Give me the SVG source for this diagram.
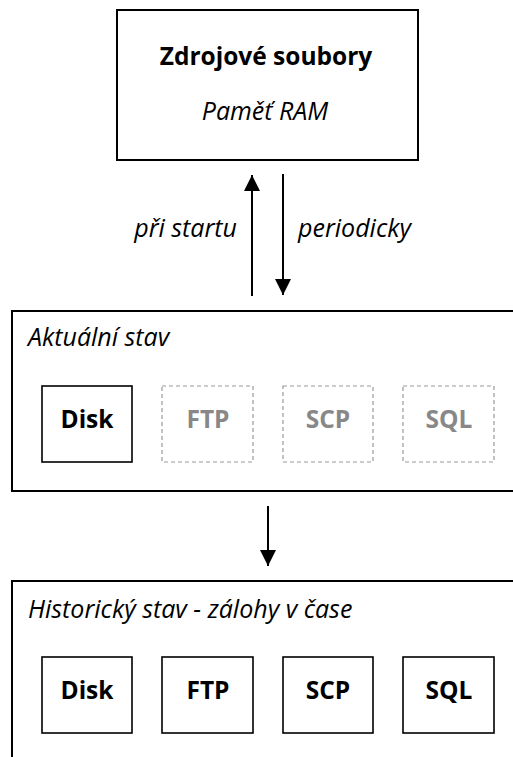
<svg xmlns="http://www.w3.org/2000/svg" width="513" height="757" viewBox="0 0 513 757">
<defs>
<style>
text{font-family:"Open Sans","DejaVu Sans",sans-serif;fill:#000}
.t{font-size:24.5px;font-weight:bold;text-anchor:middle}
.i{font-size:25px;font-style:italic}
.c{text-anchor:middle}
.box{fill:#fff;stroke:#000;stroke-width:2}
.ib{fill:#fff;stroke:#000;stroke-width:1.6}
.db{fill:#fff;stroke:#999;stroke-width:1.2;stroke-dasharray:4 3}
.g{fill:#888}
.ln{stroke:#000;stroke-width:2;fill:none}
</style>
<marker id="ah" markerWidth="16" markerHeight="16" viewBox="0 0 16 16" refX="16" refY="8" orient="auto" markerUnits="userSpaceOnUse">
<path d="M0,0 L16,8 L0,16 z" fill="#000"/>
</marker>
</defs>
<g id="zdroj">
<rect class="box" x="117" y="10" width="301" height="150"/>
<text class="t" x="266" y="65">Zdrojové soubory</text>
<text class="i c" x="265" y="120">Paměť RAM</text>
</g>
<g id="aktualni">
<rect class="box" x="12" y="311" width="520" height="180"/>
<text class="i" x="28" y="346">Aktuální stav</text>
</g>
<g id="a-disk"><rect class="ib" x="42" y="386" width="90" height="76"/><text class="t" x="87" y="428">Disk</text></g>
<g id="a-ftp"><rect class="db" x="162" y="386" width="91" height="76"/><text class="t g" x="208" y="428">FTP</text></g>
<g id="a-scp"><rect class="db" x="283" y="386" width="90" height="76"/><text class="t g" x="328" y="428">SCP</text></g>
<g id="a-sql"><rect class="db" x="403" y="386" width="91" height="76"/><text class="t g" x="449" y="428">SQL</text></g>
<g id="historicky">
<rect class="box" x="12" y="581" width="520" height="200"/>
<text class="i" x="28" y="618">Historický stav - zálohy v čase</text>
</g>
<g id="h-disk"><rect class="ib" x="42" y="657" width="90" height="76"/><text class="t" x="87" y="699">Disk</text></g>
<g id="h-ftp"><rect class="ib" x="162" y="657" width="91" height="76"/><text class="t" x="208" y="699">FTP</text></g>
<g id="h-scp"><rect class="ib" x="283" y="657" width="90" height="76"/><text class="t" x="328" y="699">SCP</text></g>
<g id="h-sql"><rect class="ib" x="403" y="657" width="91" height="76"/><text class="t" x="449" y="699">SQL</text></g>
<g id="connectors">
<line class="ln" x1="252" y1="296" x2="252" y2="175" marker-end="url(#ah)"/>
<line class="ln" x1="283" y1="174" x2="283" y2="295" marker-end="url(#ah)"/>
<line class="ln" x1="268" y1="506" x2="268" y2="566" marker-end="url(#ah)"/>
<text class="i" x="237" y="237" text-anchor="end">při startu</text>
<text class="i" x="298" y="237">periodicky</text>
</g>
</svg>
